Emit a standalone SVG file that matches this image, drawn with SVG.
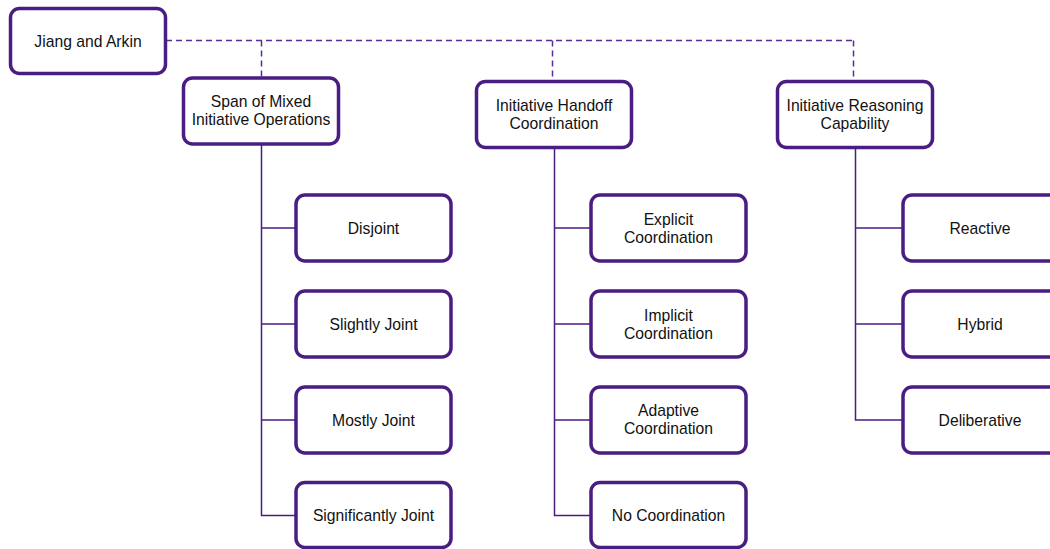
<svg xmlns="http://www.w3.org/2000/svg" width="1050" height="549" viewBox="0 0 1050 549">
<style>
.box{fill:#fff;stroke:#4a1d82;stroke-width:3.5}
.t{font-family:"Liberation Sans",Arial,sans-serif;font-size:15.7px;fill:#111;text-anchor:middle}
.ln{fill:none;stroke:#4a1d82;stroke-width:1.5}
.dash{fill:none;stroke:#5a2c97;stroke-width:1.5;stroke-dasharray:6,4}
</style>
<rect width="1050" height="549" fill="#fff"/>
<g id="connectors">
<path class="dash" d="M166,40.5 H853.5 M261.5,40.5 V77 M552.5,40.5 V81 M853.5,40.5 V81"/>
<path class="ln" d="M261.5,145 V515.5 H295 M261.5,228 H295 M261.5,324 H295 M261.5,420 H295"/>
<path class="ln" d="M554.5,148 V515.5 H590 M554.5,228 H590 M554.5,324 H590 M554.5,420 H590"/>
<path class="ln" d="M855.5,148 V420 H902 M855.5,228 H902 M855.5,324 H902"/>
</g>
<g id="root"><rect class="box" x="10.5" y="8.5" width="155" height="65" rx="9"/><text class="t" x="88" y="46.5">Jiang and Arkin</text></g>
<g id="span"><rect class="box" x="183.5" y="78" width="155" height="66" rx="9"/><text class="t" x="261" y="106.5">Span of Mixed</text><text class="t" x="261" y="125">Initiative Operations</text></g>
<g id="handoff"><rect class="box" x="476.5" y="81.5" width="155" height="66" rx="9"/><text class="t" x="554" y="110.5">Initiative Handoff</text><text class="t" x="554" y="129">Coordination</text></g>
<g id="reasoning"><rect class="box" x="777.5" y="81.5" width="155" height="66" rx="9"/><text class="t" x="855" y="110.5">Initiative Reasoning</text><text class="t" x="855" y="129">Capability</text></g>
<g id="disjoint"><rect class="box" x="296" y="195" width="155" height="66" rx="9"/><text class="t" x="373.5" y="233.5">Disjoint</text></g>
<g id="slightly"><rect class="box" x="296" y="291" width="155" height="66" rx="9"/><text class="t" x="373.5" y="329.5">Slightly Joint</text></g>
<g id="mostly"><rect class="box" x="296" y="387" width="155" height="66" rx="9"/><text class="t" x="373.5" y="425.5">Mostly Joint</text></g>
<g id="significantly"><rect class="box" x="296" y="482.5" width="155" height="65" rx="9"/><text class="t" x="373.5" y="520.5">Significantly Joint</text></g>
<g id="explicit"><rect class="box" x="591" y="195" width="155" height="66" rx="9"/><text class="t" x="668.5" y="224.5">Explicit</text><text class="t" x="668.5" y="243">Coordination</text></g>
<g id="implicit"><rect class="box" x="591" y="291" width="155" height="66" rx="9"/><text class="t" x="668.5" y="320.5">Implicit</text><text class="t" x="668.5" y="339">Coordination</text></g>
<g id="adaptive"><rect class="box" x="591" y="387" width="155" height="66" rx="9"/><text class="t" x="668.5" y="415.5">Adaptive</text><text class="t" x="668.5" y="434">Coordination</text></g>
<g id="nocoord"><rect class="box" x="591" y="482.5" width="155" height="65" rx="9"/><text class="t" x="668.5" y="520.5">No Coordination</text></g>
<g id="reactive"><rect class="box" x="903" y="195" width="155" height="66" rx="9"/><text class="t" x="980" y="233.5">Reactive</text></g>
<g id="hybrid"><rect class="box" x="903" y="291" width="155" height="66" rx="9"/><text class="t" x="980" y="329.5">Hybrid</text></g>
<g id="deliberative"><rect class="box" x="903" y="387" width="155" height="66" rx="9"/><text class="t" x="980" y="425.5">Deliberative</text></g>
</svg>
